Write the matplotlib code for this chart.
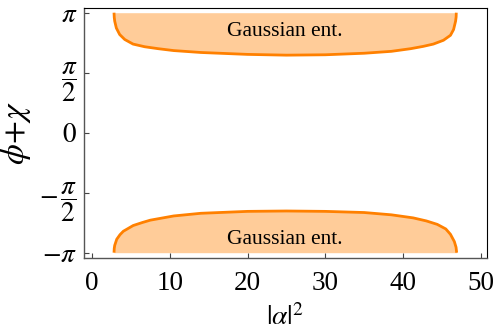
import numpy as np
import matplotlib
matplotlib.use("Agg")
import matplotlib.pyplot as plt

PI = np.pi

# upper region boundary (phi+chi vs |alpha|^2)
X_TOP = [2.83, 2.86, 2.92, 3.13, 3.56, 4.21, 5.28, 6.78, 8.49, 10.5, 14.0, 20.0, 25.0,
         30.0, 35.0, 38.5, 41.0, 42.6, 43.9, 45.2, 46.1, 46.5, 46.76, 46.83, 46.85]
Y_TOP = [PI, 3.02, 2.92, 2.74, 2.57, 2.44, 2.32, 2.25, 2.20, 2.15, 2.10, 2.05, 2.03,
         2.04, 2.08, 2.13, 2.20, 2.26, 2.32, 2.42, 2.55, 2.70, 2.92, 3.03, PI]

# lower region boundary
X_BOT = [2.83, 2.86, 2.92, 3.18, 3.6, 4.03, 5.3, 6.5, 7.5, 10.5, 14.0, 20.0, 25.0,
         30.0, 35.0, 38.5, 41.3, 43.0, 44.4, 45.5, 46.1, 46.6, 46.82, 46.9]
Y_BOT = [-PI, -3.03, -2.95, -2.79, -2.67, -2.58, -2.43, -2.35, -2.29, -2.18, -2.11, -2.06, -2.05,
         -2.06, -2.09, -2.15, -2.23, -2.31, -2.40, -2.52, -2.66, -2.85, -3.0, -PI]

X_TICKS = [0, 10, 20, 30, 40, 50]
Y_TICKS = [-PI, -PI / 2, 0, PI / 2, PI]
Y_TICKLABELS = [r"$-\pi$", r"$-\,\dfrac{\pi}{2}$", r"$0$", r"$\dfrac{\pi}{2}$", r"$\pi$"]

REGION_LABEL = "Gaussian ent."
FILL = "#FFCC99"
EDGE = "#FF8000"

plt.rcParams["font.family"] = ["Liberation Serif", "DejaVu Serif"]
plt.rcParams["mathtext.fontset"] = "stix"

fig = plt.figure(figsize=(4.95, 3.36), dpi=100)
ax = fig.add_axes([84 / 495, 1 - 258 / 336, (487 - 84) / 495, (258 - 8) / 336])

ax.fill_between(X_TOP, Y_TOP, PI, color=FILL, linewidth=0)
ax.plot(X_TOP, Y_TOP, color=EDGE, linewidth=2.0, solid_capstyle="butt", solid_joinstyle="round")
ax.fill_between(X_BOT, -PI, Y_BOT, color=FILL, linewidth=0)
ax.plot(X_BOT, Y_BOT, color=EDGE, linewidth=2.0, solid_capstyle="butt", solid_joinstyle="round")

ax.text(24.8, 2.66, REGION_LABEL, ha="center", va="center", fontsize=15.5)
ax.text(24.8, -2.79, REGION_LABEL, ha="center", va="center", fontsize=15.5)

ax.set_xlim(-1.03, 50.8)
ax.set_ylim(-PI - 0.139, PI + 0.123)
ax.set_xticks(X_TICKS)
ax.set_yticks(Y_TICKS)
ax.set_yticklabels(Y_TICKLABELS)
ax.tick_params(direction="in", length=3.5, width=0.8, labelsize=19.5, color="#444444")
ax.tick_params(axis="x", pad=9)
ax.tick_params(axis="y", pad=5)

for side in ["left", "bottom"]:
    ax.spines[side].set_color("#555555")
    ax.spines[side].set_linewidth(1.0)
for side in ["top", "right"]:
    ax.spines[side].set_color("black")
    ax.spines[side].set_linewidth(0.8)

ax.set_xlabel(r"$|\alpha|^2$", fontsize=20, labelpad=6)
ax.set_ylabel(r"$\phi\!+\!\chi$", fontsize=24, labelpad=4)

fig.savefig("out.png", dpi=100)
